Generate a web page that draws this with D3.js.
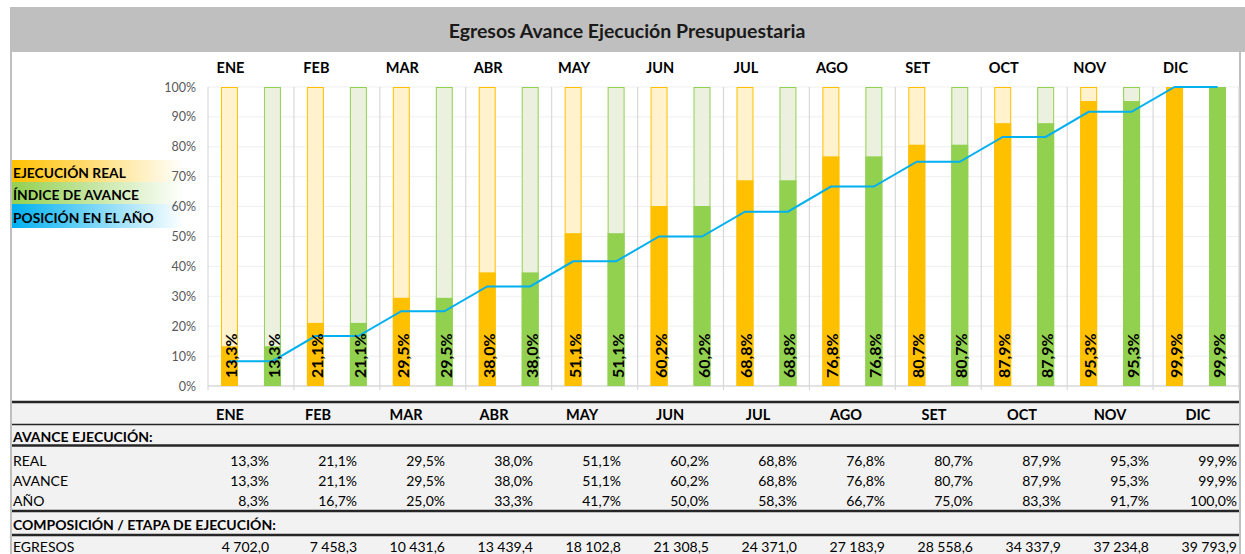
<!DOCTYPE html>
<html>
<head>
<meta charset="utf-8">
<script src="https://cdn.jsdelivr.net/npm/d3@7"></script>
<style>
  html, body { margin: 0; padding: 0; background: #ffffff; }
  svg { display: block; font-family: "Lato", "Open Sans", sans-serif; }
</style>
</head>
<body>
<svg id="chart" width="1245" height="554"></svg>
<script>
const title = "Egresos Avance Ejecución Presupuestaria";
const months = ["ENE","FEB","MAR","ABR","MAY","JUN","JUL","AGO","SET","OCT","NOV","DIC"];
const realValues = [13.3, 21.1, 29.5, 38.0, 51.1, 60.2, 68.8, 76.8, 80.7, 87.9, 95.3, 99.9];
const avanceValues = [13.3, 21.1, 29.5, 38.0, 51.1, 60.2, 68.8, 76.8, 80.7, 87.9, 95.3, 99.9];
const anioValues = [8.3, 16.7, 25.0, 33.3, 41.7, 50.0, 58.3, 66.7, 75.0, 83.3, 91.7, 100.0];
const egresosValues = [4702.0, 7458.3, 10431.6, 13439.4, 18102.8, 21308.5, 24371.0, 27183.9, 28558.6, 34337.9, 37234.8, 39793.9];
const yTicks = [0, 10, 20, 30, 40, 50, 60, 70, 80, 90, 100];
const legendLabels = ["EJECUCIÓN REAL", "ÍNDICE DE AVANCE", "POSICIÓN EN EL AÑO"];
const tableRowLabels = ["REAL", "AVANCE", "AÑO"];
const sectionLabels = ["AVANCE EJECUCIÓN:", "COMPOSICIÓN / ETAPA DE EJECUCIÓN:"];
const egresosLabel = "EGRESOS";

const ORANGE = "#ffc000", ORANGE_LIGHT = "#fff2cc";
const GREEN = "#92d050", GREEN_LIGHT = "#ebf1de";
const BLUE = "#00b0f0";

const locale = d3.formatLocale({decimal: ",", thousands: "\u2005", grouping: [3], currency: ["", ""]});
const fmtPct = v => locale.format(".1f")(v) + "%";
const fmtNum = locale.format(",.1f");

const svg = d3.select("#chart");

// title bar
svg.append("rect").attr("x", 10).attr("y", 7).attr("width", 1235).attr("height", 45).attr("fill", "#bfbfbf");
svg.append("text").attr("x", 627).attr("y", 30).attr("text-anchor", "middle").attr("dominant-baseline", "central")
  .attr("font-size", 19.5).attr("font-weight", "bold").attr("fill", "#1a1a1a").text(title);

// frame borders
svg.append("line").attr("x1", 11).attr("x2", 11).attr("y1", 7).attr("y2", 554).attr("stroke", "#bfbfbf").attr("stroke-width", 2);
svg.append("line").attr("x1", 1240).attr("x2", 1240).attr("y1", 52).attr("y2", 554).attr("stroke", "#bfbfbf").attr("stroke-width", 2);

// scales
const x = d3.scaleBand().domain(months).range([208, 1239]).paddingInner(0).paddingOuter(0);
const sub = d3.scaleBand().domain(["real", "avance"]).range([0, x.bandwidth()]).paddingInner(0.605).paddingOuter(0.3025);
const y = d3.scaleLinear().domain([0, 100]).range([386, 87]);

// legend (drawn first so axis labels sit on top)
const defs = svg.append("defs");
const legendColors = [ORANGE, GREEN, BLUE];
legendColors.forEach((c, i) => {
  const gr = defs.append("linearGradient").attr("id", "lg" + i).attr("x1", "0%").attr("x2", "100%");
  gr.append("stop").attr("offset", "0%").attr("stop-color", c);
  gr.append("stop").attr("offset", "100%").attr("stop-color", "#ffffff");
});
const legendY = [160, 182, 204];
const legendH = [22, 22, 24];
legendLabels.forEach((t, i) => {
  svg.append("rect").attr("x", 12).attr("y", legendY[i]).attr("width", 172).attr("height", legendH[i]).attr("fill", `url(#lg${i})`);
  svg.append("text").attr("x", 13).attr("y", legendY[i] + legendH[i] / 2 + 1).attr("dominant-baseline", "central")
    .attr("font-size", 13.8).attr("font-weight", "bold").attr("fill", "#000").text(t);
});

// gridlines
const g = svg.append("g");
g.selectAll("line.h").data(yTicks.slice(1)).join("line")
  .attr("x1", 208).attr("x2", 1239).attr("y1", d => y(d)).attr("y2", d => y(d))
  .attr("stroke", "#efefef").attr("stroke-width", 1);
g.selectAll("line.v").data(months.concat(["END"])).join("line")
  .attr("x1", (d, i) => i < 12 ? x(d) : x.range()[1]).attr("x2", (d, i) => i < 12 ? x(d) : x.range()[1])
  .attr("y1", y(100)).attr("y2", 390)
  .attr("stroke", "#d9d9d9").attr("stroke-width", 1.2);
g.append("line").attr("x1", 208).attr("x2", 1239).attr("y1", y(0)).attr("y2", y(0))
  .attr("stroke", "#d9d9d9").attr("stroke-width", 1.5);

// y axis
const yAxis = d3.axisLeft(y).tickValues(yTicks).tickFormat(d => d + "%").tickSize(0).tickPadding(0);
const ya = svg.append("g").attr("transform", "translate(196,0)").call(yAxis);
ya.select(".domain").remove();
ya.selectAll("text").attr("font-size", 12.5).attr("fill", "#595959").attr("font-family", "Lato, sans-serif");

// month labels on top
svg.append("g").selectAll("text").data(months).join("text")
  .attr("x", d => x(d) + sub("real") + sub.bandwidth() / 2 + 1)
  .attr("y", 67).attr("text-anchor", "middle").attr("dominant-baseline", "central")
  .attr("font-size", 14.5).attr("font-weight", "bold").attr("fill", "#000").text(d => d);

// bars
const series = [
  {key: "real", values: realValues, color: ORANGE, light: ORANGE_LIGHT},
  {key: "avance", values: avanceValues, color: GREEN, light: GREEN_LIGHT}
];
series.forEach(s => {
  const gs = svg.append("g");
  gs.selectAll("rect.bg").data(months).join("rect")
    .attr("x", d => x(d) + sub(s.key) + 0.5).attr("y", y(100) + 0.5)
    .attr("width", sub.bandwidth() - 1).attr("height", y(0) - y(100) - 1)
    .attr("fill", s.light).attr("stroke", s.color).attr("stroke-width", 1);
  gs.selectAll("rect.fg").data(s.values).join("rect")
    .attr("x", (d, i) => x(months[i]) + sub(s.key)).attr("y", d => y(d))
    .attr("width", sub.bandwidth()).attr("height", d => y(0) - y(d))
    .attr("fill", s.color);
});

// blue line (posición en el año)
const linePts = [];
anioValues.forEach((v, i) => {
  linePts.push([x(months[i]) + sub("real") + sub.bandwidth() / 2, v]);
  linePts.push([x(months[i]) + sub("avance") + sub.bandwidth() / 2, v]);
});
svg.append("path").datum(linePts)
  .attr("d", d3.line().x(d => d[0]).y(d => y(d[1])))
  .attr("fill", "none").attr("stroke", BLUE).attr("stroke-width", 2);

// rotated value labels
series.forEach(s => {
  svg.append("g").selectAll("text").data(s.values).join("text")
    .attr("transform", (d, i) => {
      const cx = x(months[i]) + sub(s.key) + sub.bandwidth() / 2 + 1;
      return `translate(${cx},${y(0) - 8}) rotate(-90)`;
    })
    .attr("text-anchor", "start").attr("dominant-baseline", "central")
    .attr("font-size", 16).attr("font-weight", "bold").attr("fill", "#000")
    .text(d => fmtPct(d));
});

// table
svg.append("rect").attr("x", 12).attr("y", 402).attr("width", 1227).attr("height", 152).attr("fill", "#f2f2f2");
const tx = d3.scaleBand().domain(months).range([182, 1238]);
const colRight = m => tx(m) + tx.bandwidth() - 1;
const tableLines = [{y: 402, w: 2.5}, {y: 424.5, w: 1.5}, {y: 445.5, w: 2.5}, {y: 511, w: 2.5}, {y: 535, w: 2.5}];
svg.append("g").selectAll("line").data(tableLines).join("line")
  .attr("x1", 12).attr("x2", 1239).attr("y1", d => d.y).attr("y2", d => d.y)
  .attr("stroke", "#262626").attr("stroke-width", d => d.w);

svg.append("g").selectAll("text").data(months).join("text")
  .attr("x", m => tx(m) + tx.bandwidth() / 2 + 4).attr("y", 414).attr("text-anchor", "middle")
  .attr("dominant-baseline", "central").attr("font-size", 14.5).attr("font-weight", "bold").attr("fill", "#000").text(m => m);

svg.append("text").attr("x", 13).attr("y", 436).attr("dominant-baseline", "central")
  .attr("font-size", 14).attr("font-weight", "bold").attr("fill", "#000").text(sectionLabels[0]);
svg.append("text").attr("x", 13).attr("y", 524).attr("dominant-baseline", "central")
  .attr("font-size", 14).attr("font-weight", "bold").attr("fill", "#000").text(sectionLabels[1]);

const rowsData = [realValues, avanceValues, anioValues];
const rowY = [460, 480, 500];
rowsData.forEach((vals, r) => {
  svg.append("text").attr("x", 13).attr("y", rowY[r]).attr("dominant-baseline", "central")
    .attr("font-size", 14).attr("fill", "#000").text(tableRowLabels[r]);
  svg.append("g").selectAll("text").data(vals).join("text")
    .attr("x", (d, i) => colRight(months[i])).attr("y", rowY[r]).attr("text-anchor", "end")
    .attr("dominant-baseline", "central").attr("font-size", 14).attr("fill", "#000").text(d => fmtPct(d));
});
svg.append("text").attr("x", 13).attr("y", 546).attr("dominant-baseline", "central")
  .attr("font-size", 14).attr("fill", "#000").text(egresosLabel);
svg.append("g").selectAll("text").data(egresosValues).join("text")
  .attr("x", (d, i) => colRight(months[i])).attr("y", 546).attr("text-anchor", "end")
  .attr("dominant-baseline", "central").attr("font-size", 14).attr("fill", "#000").text(d => fmtNum(d));
</script>
</body>
</html>
